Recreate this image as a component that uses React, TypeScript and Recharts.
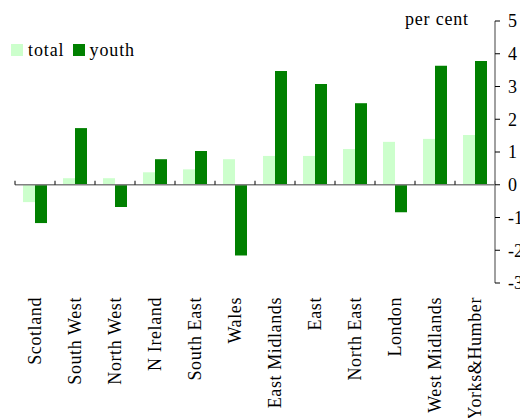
import React from 'react';
import { BarChart, Bar, XAxis, YAxis, ReferenceLine } from 'recharts';

const regions = ['Scotland', 'South West', 'North West', 'N Ireland', 'South East', 'Wales', 'East Midlands', 'East', 'North East', 'London', 'West Midlands', 'Yorks&Humber'];
const totalValues = [-0.53, 0.2, 0.2, 0.38, 0.47, 0.78, 0.88, 0.88, 1.09, 1.31, 1.4, 1.52];
const youthValues = [-1.17, 1.73, -0.68, 0.78, 1.03, -2.16, 3.47, 3.08, 2.49, -0.84, 3.63, 3.78];
const yTicks = [-3, -2, -1, 0, 1, 2, 3, 4, 5];

const data = regions.map((r, i) => ({ region: r, total: totalValues[i], youth: youthValues[i] }));

const FONT = '"Liberation Serif", "Times New Roman", serif';

const CatTick = (props: any) => {
  const { x, y, payload } = props;
  return (
    <text x={x} y={y} transform={`rotate(-90, ${x}, ${y})`} textAnchor="end" dy="0.35em" fontFamily={FONT} fontSize={18} letterSpacing={0.6} fill="#000">
      {payload.value}
    </text>
  );
};

const ValTick = (props: any) => {
  const { x, y, payload } = props;
  return (
    <text x={x} y={y} textAnchor="start" dy="0.35em" fontFamily={FONT} fontSize={18} fill="#000">
      {payload.value}
    </text>
  );
};

const ZeroLine = (props: any) => {
  const { x1, y1, x2, y2 } = props;
  const n = regions.length;
  const step = (x2 - x1) / n;
  const ticks = [];
  for (let i = 0; i <= n; i++) {
    const tx = x1 + i * step;
    ticks.push(<line key={i} x1={tx} x2={tx} y1={y1 - 4} y2={y1} stroke="#000" strokeWidth={1} />);
  }
  return (
    <g>
      <line x1={x1} y1={y1} x2={x2} y2={y2} stroke="#808080" strokeWidth={1.5} />
      {ticks}
    </g>
  );
};

export default function App() {
  return (
    <div style={{ position: 'absolute', left: 0, top: 0, width: 520, height: 418, background: '#fff' }}>
      <BarChart width={520} height={418} data={data} margin={{ top: 21, right: 0, left: 15, bottom: 0 }} barCategoryGap="20%" barGap={0}>
        <XAxis dataKey="region" axisLine={false} tickLine={false} tickSize={0} tickMargin={14} height={135} interval={0} tick={<CatTick />} />
        <YAxis orientation="right" width={25} domain={[-3, 5]} ticks={yTicks} interval={0} axisLine={{ stroke: '#808080', strokeWidth: 1.5 }} tickLine={{ stroke: '#000' }} tickSize={5} tickMargin={8} tick={<ValTick />} />
        <Bar dataKey="total" fill="#ccffcc" isAnimationActive={false} />
        <Bar dataKey="youth" fill="#008000" isAnimationActive={false} />
        <ReferenceLine y={0} shape={<ZeroLine />} />
      </BarChart>
      <div style={{ position: 'absolute', left: 405, top: 9, fontFamily: FONT, fontSize: 18, lineHeight: '20px', letterSpacing: 0.8, color: '#000', whiteSpace: 'nowrap' }}>per cent</div>
      <div style={{ position: 'absolute', left: 11, top: 40, fontFamily: FONT, fontSize: 18, lineHeight: '20px', letterSpacing: 0.9, color: '#000', display: 'flex', alignItems: 'center', whiteSpace: 'nowrap' }}>
        <span style={{ display: 'inline-block', width: 12, height: 12, background: '#ccffcc', marginRight: 5 }} />
        <span style={{ marginRight: 8 }}>total</span>
        <span style={{ display: 'inline-block', width: 12, height: 12, background: '#008000', marginRight: 5 }} />
        <span>youth</span>
      </div>
    </div>
  );
}
